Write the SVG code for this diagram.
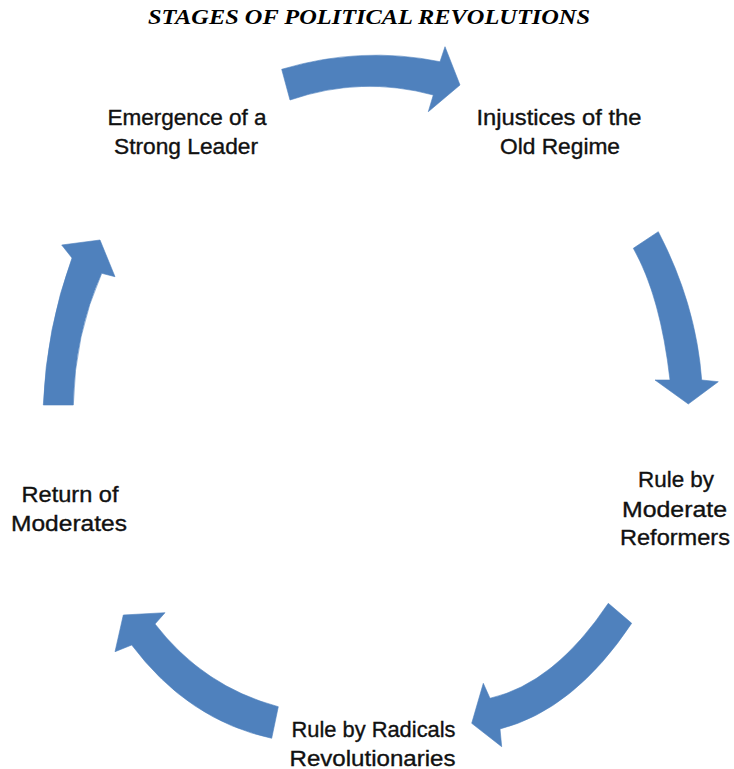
<svg xmlns="http://www.w3.org/2000/svg" width="734" height="769" viewBox="0 0 734 769">
<style>
.title{font-family:"Liberation Serif","Times New Roman",serif;font-weight:bold;font-style:italic;font-size:22px;fill:#000;}
.lbl{font-family:"Liberation Sans",Arial,sans-serif;font-size:21.5px;fill:#111;stroke:#111;stroke-width:0.35;text-anchor:middle;}
.arr{fill:#4F81BD;stroke:#4F81BD;stroke-width:0.6;stroke-linejoin:round;}
</style>
<rect width="734" height="769" fill="#fff"/>
<text class="title" x="369" y="23.5" text-anchor="middle" textLength="442" lengthAdjust="spacingAndGlyphs">STAGES OF POLITICAL REVOLUTIONS</text>

<g id="connectors">
<path class="arr" d="M281.7,69.3 Q361,45.5 440,61.7 L445,46.7 L460,85 L428.3,111.7 L433.3,95 Q361.4,75.5 290,100 Z"/>
<path class="arr" d="M658.3,231.7 Q696,304 701.7,380 L718.3,381.7 L688.3,404 L655,380 L670,380 Q660.4,295.9 633.3,248.3 Z"/>
<path class="arr" d="M631.7,623.3 Q574,710 500,729 L501.7,746.7 L471.7,723.3 L483.3,683.3 L490,698.3 Q554.9,683.4 608.3,603.3 Z"/>
<path class="arr" d="M271.7,738.3 Q188.3,720.35 131.7,645 L115,651.7 L123.3,615 L165,612.7 L155,624 Q203.35,686.65 278.3,706.7 Z"/>
<path class="arr" d="M43.3,405 Q46.35,328.5 72,258 L61.7,245 L100,240 L115,276.7 L101.7,273.3 Q74.5,334.85 73.3,405 Z"/>
</g>

<g id="node-emergence">
<text class="lbl" x="187" y="125" textLength="159" lengthAdjust="spacingAndGlyphs">Emergence of a</text>
<text class="lbl" x="186" y="153.5" textLength="144" lengthAdjust="spacingAndGlyphs">Strong Leader</text>
</g>
<g id="node-injustices">
<text class="lbl" x="559" y="125" textLength="165" lengthAdjust="spacingAndGlyphs">Injustices of the</text>
<text class="lbl" x="560" y="153.5" textLength="120" lengthAdjust="spacingAndGlyphs">Old Regime</text>
</g>
<g id="node-moderate-reformers">
<text class="lbl" x="676" y="487" textLength="76" lengthAdjust="spacingAndGlyphs">Rule by</text>
<text class="lbl" x="674.5" y="516.5" textLength="105" lengthAdjust="spacingAndGlyphs">Moderate</text>
<text class="lbl" x="675" y="545" textLength="110" lengthAdjust="spacingAndGlyphs">Reformers</text>
</g>
<g id="node-radicals">
<text class="lbl" x="373.5" y="736.5" textLength="164" lengthAdjust="spacingAndGlyphs">Rule by Radicals</text>
<text class="lbl" x="372.5" y="765.5" textLength="166" lengthAdjust="spacingAndGlyphs">Revolutionaries</text>
</g>
<g id="node-return">
<text class="lbl" x="70" y="501.5" textLength="97" lengthAdjust="spacingAndGlyphs">Return of</text>
<text class="lbl" x="69" y="530.5" textLength="116" lengthAdjust="spacingAndGlyphs">Moderates</text>
</g>
</svg>
